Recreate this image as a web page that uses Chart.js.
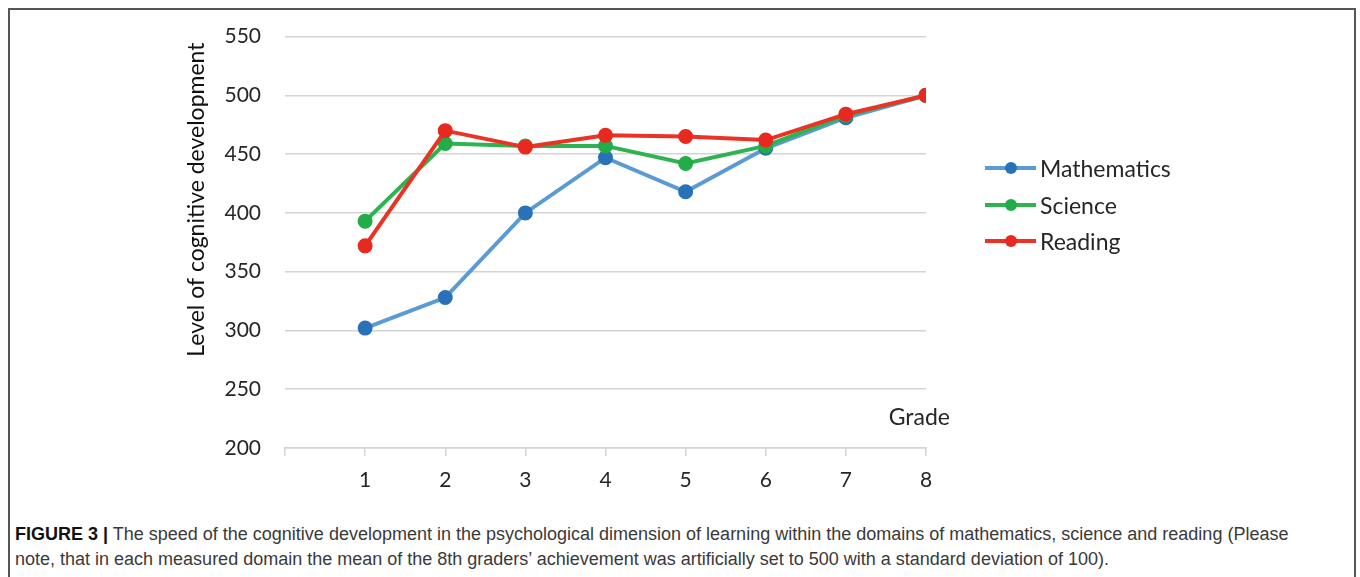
<!DOCTYPE html>
<html>
<head>
<meta charset="utf-8">
<script src="https://cdn.jsdelivr.net/npm/chart.js@4.4.1/dist/chart.umd.min.js"></script>
<style>
  body { margin: 0; background: #fff; width: 1360px; height: 577px; overflow: hidden; position: relative; }
  .frame { position: absolute; left: 8px; top: 8px; width: 1344px; height: 620px; border: 2px solid #555; }
  #chart { position: absolute; left: 0; top: 0; }
  .legend { position: absolute; left: 985px; top: 150px; font-family: Lato, "Open Sans", sans-serif; font-size: 23px; color: #262626; }
  .legend .row { height: 36.5px; display: flex; align-items: center; }
  .legend .swatch { position: relative; width: 51px; height: 14px; margin-right: 4px; }
  .legend .swatch i { position: absolute; left: 0; right: 0; top: 5px; height: 4px; }
  .legend .swatch b { position: absolute; left: 20px; top: 1px; width: 12px; height: 12px; border-radius: 50%; }
  .caption { position: absolute; left: 15px; top: 522px; white-space: nowrap; font-family: "Liberation Sans Narrow", "Arial Narrow", "Liberation Sans", sans-serif; font-size: 18px; line-height: 25px; color: #3a3a3a; }
  .caption strong { color: #111; }
</style>
</head>
<body>
<div class="frame"></div>
<canvas id="chart" width="1360" height="505"></canvas>
<div class="legend" id="legend"></div>
<div class="caption"><strong>FIGURE 3 |</strong> The speed of the cognitive development in the psychological dimension of learning within the domains of mathematics, science and reading (Please<br>note, that in each measured domain the mean of the 8th graders’ achievement was artificially set to 500 with a standard deviation of 100).</div>
<script>
// Data
const grades = [1, 2, 3, 4, 5, 6, 7, 8];
const mathematics = [302, 328, 400, 447, 418, 455, 481, 500];
const science = [393, 459, 457, 457, 442, 457, 483, 500];
const reading = [372, 470, 456, 466, 465, 462, 484, 500];
const seriesNames = ["Mathematics", "Science", "Reading"];
const lineColors = ["#5b9bd5", "#2db34f", "#ea3324"];
const pointColors = ["#2a72b8", "#22ad48", "#e8291f"];

const seriesValues = [mathematics, science, reading];

// Build datasets from the arrays
const datasets = seriesNames.map((name, i) => ({
    label: name,
    data: grades.map((g, j) => ({ x: g, y: seriesValues[i][j] })),
    borderColor: lineColors[i],
    backgroundColor: pointColors[i],
    pointBackgroundColor: pointColors[i],
    pointBorderColor: pointColors[i],
    borderWidth: 4,
    pointRadius: 5.5,
    pointHoverRadius: 5.5,
    tension: 0,
    order: 2 - i
}));

const labelFont = "Lato, 'Open Sans', sans-serif";

// "Grade" label and the y axis title (sits above the middle of the axis)
const extraLabels = {
    id: "extraLabels",
    afterDraw(chart) {
        const ctx = chart.ctx;
        const area = chart.chartArea;
        ctx.save();
        ctx.font = "23px " + labelFont;
        ctx.fillStyle = "#262626";
        ctx.textAlign = "right";
        ctx.textBaseline = "middle";
        ctx.fillText("Grade", area.right + 24, area.bottom - 30);

        ctx.translate(area.left - 88, area.top + 163);
        ctx.rotate(-Math.PI / 2);
        ctx.textAlign = "center";
        ctx.fillStyle = "#111";
        ctx.fillText("Level of cognitive development", 0, 0);
        ctx.restore();
    }
};

const ctx = document.getElementById("chart").getContext("2d");
new Chart(ctx, {
    type: "line",
    data: { datasets: datasets },
    plugins: [extraLabels],
    options: {
        responsive: false,
        animation: false,
        layout: { autoPadding: false, padding: { left: 180, right: 434, top: 33, bottom: 0 } },
        plugins: {
            legend: { display: false },
            tooltip: { enabled: false }
        },
        scales: {
            x: {
                type: "linear",
                min: 0,
                max: 8,
                afterFit: (scale) => { scale.height = 57; },
                ticks: {
                    stepSize: 1,
                    padding: 12,
                    color: "#262626",
                    font: { family: labelFont, size: 21 },
                    callback: (v) => (v === 0 ? "" : v)
                },
                grid: { drawOnChartArea: false, drawTicks: true, tickLength: 8, color: "#d4d4d4", lineWidth: 1.5 },
                border: { display: true, color: "#d4d4d4", width: 1.5 }
            },
            y: {
                min: 200,
                max: 550,
                afterFit: (scale) => { scale.width = 105; },
                ticks: {
                    stepSize: 50,
                    padding: 24,
                    color: "#262626",
                    font: { family: labelFont, size: 21 }
                },
                grid: { drawTicks: false, color: "#d4d4d4", lineWidth: 1.5 },
                border: { display: false }
            }
        }
    }
});

// Legend
const legendEl = document.getElementById("legend");
seriesNames.forEach((name, i) => {
    const row = document.createElement("div");
    row.className = "row";
    row.innerHTML = '<span class="swatch"><i style="background:' + lineColors[i] + '"></i><b style="background:' + pointColors[i] + '"></b></span><span>' + name + '</span>';
    legendEl.appendChild(row);
});
</script>
</body>
</html>
